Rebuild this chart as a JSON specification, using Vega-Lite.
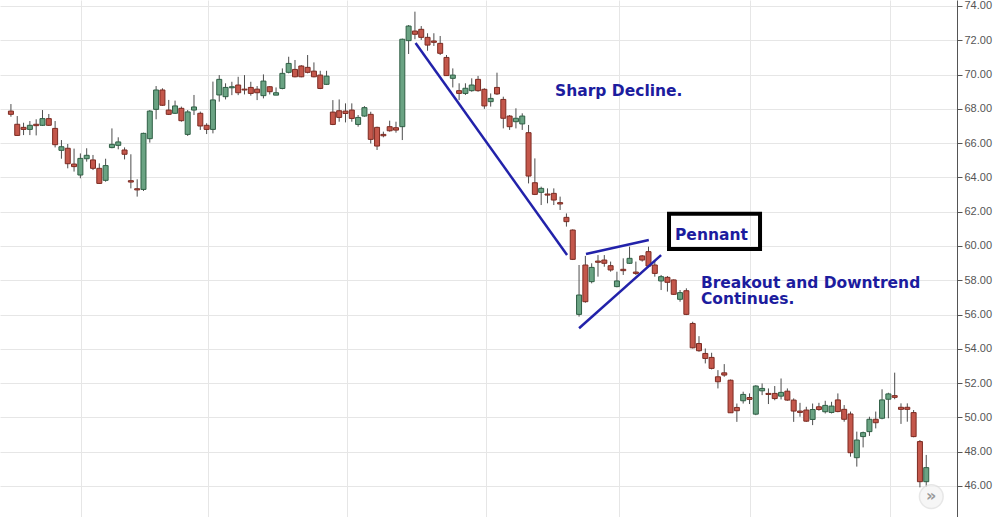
{
  "$schema": "https://vega.github.io/schema/vega-lite/v6.json",
  "width": 957,
  "height": 517,
  "autosize": {"type": "none"},
  "padding": {"left": 0, "top": 0, "right": 42, "bottom": 0},
  "background": "white",
  "config": {
    "view": {"stroke": null},
    "axis": {"labelOverlap": false, "gridColor": "#e6e6e6", "gridWidth": 1},
    "axisY": {"labelOverlap": false, "labelColor": "#555555", "labelFont": "Liberation Sans", "labelFontSize": 11, "labelPadding": 2, "tickColor": "#555555", "tickSize": 5, "domainColor": "#555555", "labelBound": false, "labelFlush": false, "labelSeparation": 0}
  },
  "datasets": {
    "candles": [
      {"i":1,"o":67.87,"h":68.28,"l":67.54,"c":67.68},
      {"i":2,"o":67.10,"h":67.58,"l":66.42,"c":66.45},
      {"i":3,"o":66.92,"h":67.19,"l":66.47,"c":66.80},
      {"i":4,"o":66.80,"h":67.29,"l":66.47,"c":67.04},
      {"i":5,"o":67.10,"h":67.39,"l":66.45,"c":67.02},
      {"i":6,"o":67.04,"h":67.93,"l":67.00,"c":67.43},
      {"i":7,"o":67.43,"h":67.70,"l":67.00,"c":67.04},
      {"i":8,"o":66.86,"h":67.29,"l":65.75,"c":65.91},
      {"i":9,"o":65.58,"h":66.18,"l":65.09,"c":65.79},
      {"i":10,"o":65.70,"h":65.95,"l":64.53,"c":64.80},
      {"i":11,"o":64.78,"h":65.68,"l":64.34,"c":64.63},
      {"i":12,"o":64.14,"h":65.40,"l":63.95,"c":65.11},
      {"i":13,"o":65.09,"h":65.70,"l":64.92,"c":65.29},
      {"i":14,"o":65.02,"h":65.31,"l":64.43,"c":64.53},
      {"i":15,"o":64.53,"h":64.82,"l":63.62,"c":63.65},
      {"i":16,"o":63.83,"h":65.09,"l":63.75,"c":64.69},
      {"i":17,"o":65.74,"h":66.86,"l":65.70,"c":65.93},
      {"i":18,"o":65.87,"h":66.34,"l":65.64,"c":66.07},
      {"i":19,"o":65.60,"h":65.75,"l":65.05,"c":65.35},
      {"i":20,"o":63.81,"h":65.35,"l":63.36,"c":63.73},
      {"i":21,"o":63.34,"h":63.89,"l":62.88,"c":63.27},
      {"i":22,"o":63.30,"h":66.61,"l":63.21,"c":66.57},
      {"i":23,"o":66.26,"h":67.93,"l":66.03,"c":67.87},
      {"i":24,"o":67.97,"h":69.33,"l":67.39,"c":69.10},
      {"i":25,"o":69.10,"h":69.20,"l":68.17,"c":68.21},
      {"i":26,"o":67.93,"h":68.52,"l":67.64,"c":67.68},
      {"i":27,"o":67.74,"h":68.48,"l":67.70,"c":68.17},
      {"i":28,"o":68.03,"h":68.13,"l":67.25,"c":67.31},
      {"i":29,"o":66.51,"h":67.93,"l":66.42,"c":67.82},
      {"i":30,"o":67.93,"h":68.81,"l":67.64,"c":68.11},
      {"i":31,"o":67.74,"h":67.84,"l":66.77,"c":67.00},
      {"i":32,"o":67.04,"h":67.16,"l":66.53,"c":66.80},
      {"i":33,"o":66.80,"h":69.59,"l":66.57,"c":68.52},
      {"i":34,"o":68.81,"h":69.97,"l":68.42,"c":69.72},
      {"i":35,"o":68.71,"h":69.49,"l":68.55,"c":69.25},
      {"i":36,"o":69.23,"h":69.58,"l":68.80,"c":69.29},
      {"i":37,"o":69.39,"h":69.87,"l":68.80,"c":68.94},
      {"i":38,"o":69.15,"h":69.97,"l":68.84,"c":69.10},
      {"i":39,"o":69.25,"h":69.58,"l":68.77,"c":68.90},
      {"i":40,"o":69.15,"h":69.33,"l":68.51,"c":68.94},
      {"i":41,"o":68.77,"h":70.01,"l":68.61,"c":69.62},
      {"i":42,"o":69.29,"h":69.33,"l":68.84,"c":69.00},
      {"i":43,"o":68.80,"h":69.25,"l":68.80,"c":68.94},
      {"i":44,"o":69.19,"h":70.36,"l":69.14,"c":70.07},
      {"i":45,"o":70.13,"h":71.04,"l":70.07,"c":70.65},
      {"i":46,"o":70.30,"h":70.85,"l":69.84,"c":69.87},
      {"i":47,"o":70.50,"h":70.55,"l":69.84,"c":69.87},
      {"i":48,"o":70.42,"h":71.14,"l":70.07,"c":70.13},
      {"i":49,"o":70.20,"h":70.71,"l":69.84,"c":69.87},
      {"i":50,"o":69.97,"h":70.22,"l":69.15,"c":69.19},
      {"i":51,"o":69.43,"h":70.22,"l":69.39,"c":69.91},
      {"i":52,"o":67.81,"h":68.51,"l":67.05,"c":67.09},
      {"i":53,"o":67.89,"h":68.55,"l":67.25,"c":67.50},
      {"i":54,"o":67.87,"h":68.32,"l":67.21,"c":67.73},
      {"i":55,"o":67.93,"h":68.32,"l":67.25,"c":67.44},
      {"i":56,"o":67.09,"h":67.64,"l":66.96,"c":67.50},
      {"i":57,"o":67.58,"h":68.16,"l":67.54,"c":68.07},
      {"i":58,"o":67.68,"h":67.83,"l":65.98,"c":66.22},
      {"i":59,"o":66.92,"h":66.96,"l":65.60,"c":65.83},
      {"i":60,"o":66.51,"h":66.67,"l":66.34,"c":66.43},
      {"i":61,"o":66.96,"h":67.31,"l":66.67,"c":66.72},
      {"i":62,"o":66.90,"h":67.25,"l":66.61,"c":66.76},
      {"i":63,"o":66.96,"h":72.10,"l":66.18,"c":72.06},
      {"i":64,"o":71.98,"h":72.89,"l":71.20,"c":72.83},
      {"i":65,"o":72.54,"h":73.67,"l":72.06,"c":72.35},
      {"i":66,"o":72.64,"h":72.83,"l":72.02,"c":72.17},
      {"i":67,"o":72.17,"h":72.41,"l":71.39,"c":71.72},
      {"i":68,"o":71.96,"h":72.41,"l":71.67,"c":71.88},
      {"i":69,"o":71.82,"h":72.25,"l":71.14,"c":71.24},
      {"i":70,"o":71.00,"h":71.14,"l":69.92,"c":69.94},
      {"i":71,"o":69.78,"h":70.36,"l":69.25,"c":69.97},
      {"i":72,"o":69.06,"h":69.49,"l":68.51,"c":68.90},
      {"i":73,"o":68.90,"h":69.49,"l":68.81,"c":69.20},
      {"i":74,"o":69.06,"h":69.78,"l":69.00,"c":69.39},
      {"i":75,"o":69.72,"h":69.92,"l":69.00,"c":69.06},
      {"i":76,"o":69.14,"h":69.20,"l":68.00,"c":68.17},
      {"i":77,"o":68.42,"h":68.90,"l":68.13,"c":68.61},
      {"i":78,"o":69.25,"h":70.11,"l":68.81,"c":68.87},
      {"i":79,"o":68.55,"h":68.71,"l":66.86,"c":67.45},
      {"i":80,"o":67.58,"h":67.64,"l":66.77,"c":66.96},
      {"i":81,"o":67.25,"h":68.03,"l":66.86,"c":67.45},
      {"i":82,"o":67.12,"h":67.74,"l":66.77,"c":67.58},
      {"i":83,"o":66.61,"h":67.06,"l":63.65,"c":64.08},
      {"i":84,"o":63.69,"h":65.11,"l":62.97,"c":63.01},
      {"i":85,"o":63.13,"h":63.46,"l":62.39,"c":63.36},
      {"i":86,"o":63.03,"h":63.36,"l":62.49,"c":62.97},
      {"i":87,"o":63.07,"h":63.36,"l":62.39,"c":62.68},
      {"i":88,"o":62.53,"h":62.88,"l":62.10,"c":62.45},
      {"i":89,"o":61.67,"h":61.90,"l":61.13,"c":61.42},
      {"i":90,"o":60.93,"h":60.97,"l":59.18,"c":59.22},
      {"i":91,"o":56.01,"h":58.89,"l":55.88,"c":57.14},
      {"i":92,"o":58.89,"h":59.42,"l":56.69,"c":56.75},
      {"i":93,"o":57.92,"h":58.99,"l":57.82,"c":58.75},
      {"i":94,"o":59.12,"h":59.47,"l":58.21,"c":59.05},
      {"i":95,"o":59.18,"h":59.47,"l":58.79,"c":58.99},
      {"i":96,"o":58.85,"h":59.09,"l":58.50,"c":58.60},
      {"i":97,"o":57.63,"h":58.50,"l":57.59,"c":57.96},
      {"i":98,"o":58.64,"h":59.28,"l":58.31,"c":58.56},
      {"i":99,"o":58.99,"h":59.96,"l":58.95,"c":59.28},
      {"i":100,"o":58.48,"h":59.09,"l":58.31,"c":58.40},
      {"i":101,"o":59.42,"h":59.47,"l":59.09,"c":59.18},
      {"i":102,"o":59.67,"h":59.96,"l":58.75,"c":58.83},
      {"i":103,"o":58.89,"h":59.18,"l":58.21,"c":58.40},
      {"i":104,"o":57.96,"h":58.31,"l":57.43,"c":58.21},
      {"i":105,"o":58.17,"h":58.25,"l":57.34,"c":57.88},
      {"i":106,"o":58.02,"h":58.05,"l":57.14,"c":57.18},
      {"i":107,"o":56.89,"h":57.43,"l":56.75,"c":57.28},
      {"i":108,"o":57.39,"h":57.53,"l":55.97,"c":56.01},
      {"i":109,"o":55.48,"h":55.58,"l":54.02,"c":54.06},
      {"i":110,"o":54.31,"h":54.74,"l":53.83,"c":53.89},
      {"i":111,"o":53.73,"h":54.02,"l":53.15,"c":53.44},
      {"i":112,"o":53.50,"h":53.77,"l":52.80,"c":52.86},
      {"i":113,"o":52.37,"h":52.76,"l":51.69,"c":52.08},
      {"i":114,"o":52.60,"h":53.11,"l":52.37,"c":52.47},
      {"i":115,"o":52.17,"h":52.21,"l":50.27,"c":50.27},
      {"i":116,"o":50.58,"h":50.81,"l":49.74,"c":50.39},
      {"i":117,"o":50.97,"h":51.50,"l":50.81,"c":51.34},
      {"i":118,"o":51.16,"h":51.40,"l":50.78,"c":51.05},
      {"i":119,"o":50.19,"h":51.88,"l":50.13,"c":51.83},
      {"i":120,"o":51.55,"h":51.98,"l":51.30,"c":51.69},
      {"i":121,"o":51.40,"h":51.69,"l":50.78,"c":51.34},
      {"i":122,"o":51.40,"h":51.83,"l":51.00,"c":51.10},
      {"i":123,"o":51.24,"h":52.27,"l":51.05,"c":51.46},
      {"i":124,"o":51.53,"h":51.69,"l":50.97,"c":51.01},
      {"i":125,"o":51.01,"h":51.11,"l":49.74,"c":50.37},
      {"i":126,"o":50.37,"h":50.85,"l":50.04,"c":50.29},
      {"i":127,"o":50.43,"h":50.62,"l":49.74,"c":49.78},
      {"i":128,"o":49.88,"h":50.81,"l":49.55,"c":50.46},
      {"i":129,"o":50.62,"h":50.85,"l":50.39,"c":50.46},
      {"i":130,"o":50.33,"h":50.97,"l":50.23,"c":50.70},
      {"i":131,"o":50.29,"h":50.91,"l":50.23,"c":50.66},
      {"i":132,"o":51.02,"h":51.40,"l":50.30,"c":50.34},
      {"i":133,"o":50.47,"h":50.72,"l":49.75,"c":49.89},
      {"i":134,"o":50.20,"h":50.34,"l":47.71,"c":47.94},
      {"i":135,"o":47.65,"h":49.17,"l":47.13,"c":48.68},
      {"i":136,"o":48.88,"h":49.17,"l":48.25,"c":49.11},
      {"i":137,"o":49.17,"h":50.04,"l":48.92,"c":49.89},
      {"i":138,"o":49.89,"h":50.34,"l":49.36,"c":49.69},
      {"i":139,"o":49.95,"h":51.64,"l":49.89,"c":51.02},
      {"i":140,"o":51.06,"h":51.44,"l":49.95,"c":51.37},
      {"i":141,"o":51.27,"h":52.61,"l":51.06,"c":51.17},
      {"i":142,"o":50.59,"h":50.82,"l":49.62,"c":50.47},
      {"i":143,"o":50.59,"h":50.82,"l":49.75,"c":50.47},
      {"i":144,"o":50.28,"h":50.43,"l":48.84,"c":48.88},
      {"i":145,"o":48.59,"h":48.68,"l":45.92,"c":46.25},
      {"i":146,"o":46.25,"h":47.81,"l":45.96,"c":47.07}
    ],
    "lines": [
      {"x":65.1,"y":71.84,"x2":89.1,"y2":59.47},
      {"x":92.1,"y":59.53,"x2":102.05,"y2":60.35},
      {"x":91.0,"y":55.2,"x2":104.0,"y2":59.47}
    ],
    "labels": [
      {"x":87.2,"y":68.75,"t":"Sharp Decline."},
      {"x":106.2,"y":60.35,"t":"Pennant"},
      {"x":110.3,"y":57.53,"t":"Breakout and Downtrend"},
      {"x":110.3,"y":56.60,"t":"Continues."}
    ],
    "box": [
      {"x":105.25,"x2":119.67,"y":61.88,"y2":59.82}
    ],
    "button": [
      {"x":146.8,"y":45.38,"t":"»"}
    ]
  },
  "layer": [
    {
      "data": {"name": "candles"},
      "mark": {"type": "rule", "color": "#4d4d4d", "strokeWidth": 1},
      "encoding": {
        "x": {"field": "i", "type": "quantitative",
          "scale": {"domain": [0.06, 150.08], "nice": false, "zero": false},
          "axis": {"title": null, "labels": false, "ticks": false, "domain": false,
            "grid": true, "values": [12.1, 32.2, 54.3, 76.2, 97.3, 118.1, 140.2]}},
        "y": {"field": "l", "type": "quantitative",
          "scale": {"domain": [44.19, 74.35], "nice": false, "zero": false},
          "axis": {"title": null, "orient": "right", "values": [46,48,50,52,54,56,58,60,62,64,66,68,70,72,74],
            "format": ".2f", "grid": true, "domain": true, "ticks": true, "labelOverlap": false, "labelSeparation": 0, "labelBound": false}},
        "y2": {"field": "h"}
      }
    },
    {
      "data": {"name": "candles"},
      "mark": {"type": "bar", "size": 5, "strokeWidth": 1},
      "encoding": {
        "x": {"field": "i", "type": "quantitative"},
        "y": {"field": "o", "type": "quantitative",
          "axis": {"title": null, "orient": "right", "values": [46,48,50,52,54,56,58,60,62,64,66,68,70,72,74],
            "format": ".2f", "grid": true, "domain": true, "ticks": true, "labelOverlap": false, "labelSeparation": 0, "labelBound": false}},
        "y2": {"field": "c"},
        "fill": {"condition": {"test": "datum.c >= datum.o", "value": "#6aa383"}, "value": "#c4574b"},
        "stroke": {"condition": {"test": "datum.c >= datum.o", "value": "#2f5f45"}, "value": "#7c2b22"}
      }
    },
    {
      "data": {"name": "lines"},
      "mark": {"type": "rule", "color": "#2222aa", "strokeWidth": 2.5},
      "encoding": {
        "x": {"field": "x", "type": "quantitative"},
        "y": {"field": "y", "type": "quantitative",
          "axis": {"title": null, "orient": "right", "values": [46,48,50,52,54,56,58,60,62,64,66,68,70,72,74],
            "format": ".2f", "grid": true, "domain": true, "ticks": true, "labelOverlap": false, "labelSeparation": 0, "labelBound": false}},
        "x2": {"field": "x2"},
        "y2": {"field": "y2"}
      }
    },
    {
      "data": {"name": "box"},
      "mark": {"type": "rect", "fill": null, "fillOpacity": 0, "stroke": "#000000", "strokeWidth": 4},
      "encoding": {
        "x": {"field": "x", "type": "quantitative"},
        "x2": {"field": "x2"},
        "y": {"field": "y", "type": "quantitative",
          "axis": {"title": null, "orient": "right", "values": [46,48,50,52,54,56,58,60,62,64,66,68,70,72,74],
            "format": ".2f", "grid": true, "domain": true, "ticks": true, "labelOverlap": false, "labelSeparation": 0, "labelBound": false}},
        "y2": {"field": "y2"}
      }
    },
    {
      "data": {"name": "labels"},
      "mark": {"type": "text", "align": "left", "baseline": "alphabetic", "font": "DejaVu Sans", "fontWeight": "bold", "fontSize": 15.5, "color": "#1c1c9e"},
      "encoding": {
        "x": {"field": "x", "type": "quantitative"},
        "y": {"field": "y", "type": "quantitative",
          "axis": {"title": null, "orient": "right", "values": [46,48,50,52,54,56,58,60,62,64,66,68,70,72,74],
            "format": ".2f", "grid": true, "domain": true, "ticks": true, "labelOverlap": false, "labelSeparation": 0, "labelBound": false}},
        "text": {"field": "t"}
      }
    },
    {
      "data": {"name": "button"},
      "mark": {"type": "point", "shape": "circle", "filled": true, "size": 560, "color": "#f3f3f3", "stroke": "#dddddd", "strokeWidth": 1.5},
      "encoding": {
        "x": {"field": "x", "type": "quantitative"},
        "y": {"field": "y", "type": "quantitative",
          "axis": {"title": null, "orient": "right", "values": [46,48,50,52,54,56,58,60,62,64,66,68,70,72,74],
            "format": ".2f", "grid": true, "domain": true, "ticks": true, "labelOverlap": false, "labelSeparation": 0, "labelBound": false}}
      }
    },
    {
      "data": {"name": "button"},
      "mark": {"type": "text", "align": "center", "baseline": "middle", "font": "DejaVu Sans", "fontWeight": "bold", "fontSize": 16, "color": "#9a9a9a", "dy": -1},
      "encoding": {
        "x": {"field": "x", "type": "quantitative"},
        "y": {"field": "y", "type": "quantitative",
          "axis": {"title": null, "orient": "right", "values": [46,48,50,52,54,56,58,60,62,64,66,68,70,72,74],
            "format": ".2f", "grid": true, "domain": true, "ticks": true, "labelOverlap": false, "labelSeparation": 0, "labelBound": false}},
        "text": {"field": "t"}
      }
    }
  ]
}
